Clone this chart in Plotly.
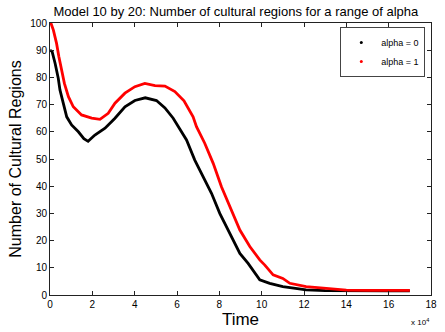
import plotly.graph_objects as go

# Time (x 10^4 steps) and number of cultural regions for each alpha
time_a0 = [0.0, 0.1, 0.24, 0.39, 0.47, 0.63, 0.79, 1.02, 1.34, 1.6, 1.8, 2.12, 2.6, 3.07, 3.54,
           4.01, 4.5, 5.03, 5.43, 5.82, 6.21, 6.45, 6.84, 7.24, 7.63, 8.02, 8.5, 8.97, 9.36,
           9.67, 9.91, 10.38, 11.0, 11.6, 12.1, 13.0, 14.0, 15.0, 16.0, 17.0]
regions_a0 = [90.0, 89.5, 85.2, 79.7, 75.4, 70.5, 65.5, 62.5, 60.0, 57.5, 56.5, 58.8, 61.3, 65.0, 69.2,
              71.5, 72.5, 71.5, 68.8, 65.0, 60.0, 57.0, 49.6, 43.5, 37.4, 30.0, 22.6, 15.3, 11.6,
              8.0, 5.6, 4.3, 3.1, 2.4, 1.9, 1.6, 1.5, 1.5, 1.5, 1.5]

time_a1 = [0.0, 0.05, 0.16, 0.31, 0.42, 0.55, 0.68, 0.87, 1.1, 1.49, 1.97, 2.36, 2.75, 3.07, 3.54,
           4.01, 4.48, 4.96, 5.43, 5.9, 6.33, 6.76, 6.92, 7.31, 7.71, 8.1, 8.57, 8.97, 9.44,
           9.91, 10.15, 10.54, 11.0, 11.33, 12.1, 12.7, 13.5, 14.0, 15.0, 16.0, 17.0]
regions_a1 = [100.0, 99.8, 97.4, 92.5, 87.6, 82.7, 77.8, 72.9, 69.2, 66.2, 65.0, 64.6, 66.8, 70.5, 74.2,
              76.6, 77.8, 77.0, 76.8, 74.8, 71.4, 65.5, 61.9, 55.8, 48.4, 39.8, 31.3, 23.9, 17.8,
              12.9, 11.0, 7.4, 6.1, 4.3, 3.1, 2.7, 2.0, 1.8, 1.7, 1.7, 1.7]

x_ticks = list(range(0, 19, 2))
y_ticks = list(range(0, 101, 10))

series = [
    ("alpha = 0", time_a0, regions_a0, "#000000"),
    ("alpha = 1", time_a1, regions_a1, "#ff0000"),
]

FONT = "Liberation Sans, Arial"

fig = go.Figure()
for name, xs, ys, color in series:
    # dense trail of points drawn as a thick line
    fig.add_trace(go.Scatter(x=xs, y=ys, mode="lines", line=dict(color=color, width=2.8),
                             showlegend=False, hoverinfo="skip"))
for name, xs, ys, color in series:
    # point marker for the legend entry
    fig.add_trace(go.Scatter(x=[None], y=[None], mode="markers", name=name,
                             marker=dict(color=color, size=3)))

axis_common = dict(
    showgrid=False, zeroline=False, showline=True, linecolor="#222222", linewidth=1,
    mirror="allticks", ticks="inside", ticklen=4, tickcolor="#222222", automargin=False,
    tickfont=dict(family=FONT, size=10, color="black"),
)

fig.update_layout(
    width=445, height=332,
    margin=dict(l=50, r=14, t=23, b=37, autoexpand=False),
    paper_bgcolor="white", plot_bgcolor="white",
    title=dict(text="Model 10 by 20: Number of cultural regions for a range of alpha",
               x=0.53, xanchor="center", y=0.978, yanchor="top",
               font=dict(family=FONT, size=13, color="black")),
    xaxis=dict(range=[0, 18], tickvals=x_ticks, ticktext=[str(v) for v in x_ticks],
               title=dict(text="Time", standoff=2,
                          font=dict(family=FONT, size=17, color="black")),
               **axis_common),
    yaxis=dict(range=[0, 100], tickvals=y_ticks, ticktext=[str(v) for v in y_ticks],
               title=dict(text="Number of Cultural Regions", standoff=4,
                          font=dict(family=FONT, size=16, color="black")),
               **axis_common),
    legend=dict(x=0.985, y=0.985, xanchor="right", yanchor="top",
                bgcolor="white", bordercolor="#444444", borderwidth=1,
                font=dict(family=FONT, size=9, color="black"),
                itemsizing="trace", itemwidth=30, tracegroupgap=0),
    showlegend=True,
)

fig.add_annotation(text="x 10<sup>4</sup>", xref="paper", yref="paper", x=1.0, y=-0.075,
                   xanchor="right", yanchor="top", showarrow=False,
                   font=dict(family=FONT, size=8, color="black"))

fig.write_html("out.html")
